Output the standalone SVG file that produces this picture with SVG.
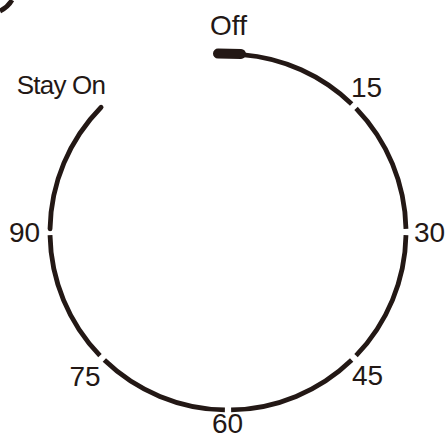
<svg xmlns="http://www.w3.org/2000/svg" width="447" height="439" viewBox="0 0 447 439">
<style>
.arc{fill:none;stroke:#231815;stroke-width:4.8;stroke-linecap:butt}
.lbl{font-family:"Liberation Sans",Arial,sans-serif;font-size:28px;fill:#231815;text-anchor:middle}
</style>
<rect width="447" height="439" fill="#fff"/>
<g id="corner">
<path class="arc" d="M0,11 Q8,7 12,0"/>
</g>
<g id="connectors">
<path class="arc" d="M241.97,54.55 A178,178 0 0 1 351.65,103.96"/>
<path class="arc" d="M356.04,108.35 A178,178 0 0 1 405.97,228.89"/>
<path class="arc" d="M405.97,235.11 A178,178 0 0 1 356.04,355.65"/>
<path class="arc" d="M351.65,360.04 A178,178 0 0 1 231.11,409.97"/>
<path class="arc" d="M224.89,409.97 A178,178 0 0 1 104.35,360.04"/>
<path class="arc" d="M99.96,355.65 A178,178 0 0 1 50.03,235.11"/>
<path class="arc" d="M50.03,228.89 A178,178 0 0 1 101.1,107.2" style="stroke-linecap:round"/>
<path d="M218,53.5 L241,54" stroke="#231815" stroke-width="10" stroke-linecap="round" fill="none"/>
</g>
<g id="off"><text class="lbl" x="228.5" y="35">Off</text></g>
<g id="stayon"><text class="lbl" x="61" y="94" style="font-size:26px;letter-spacing:-0.8px">Stay On</text></g>
<g id="t15"><text class="lbl" x="366.5" y="97">15</text></g>
<g id="t30"><text class="lbl" x="429.5" y="242">30</text></g>
<g id="t45"><text class="lbl" x="367.5" y="385">45</text></g>
<g id="t60"><text class="lbl" x="227.5" y="433">60</text></g>
<g id="t75"><text class="lbl" x="85" y="386">75</text></g>
<g id="t90"><text class="lbl" x="24.5" y="242">90</text></g>
</svg>
